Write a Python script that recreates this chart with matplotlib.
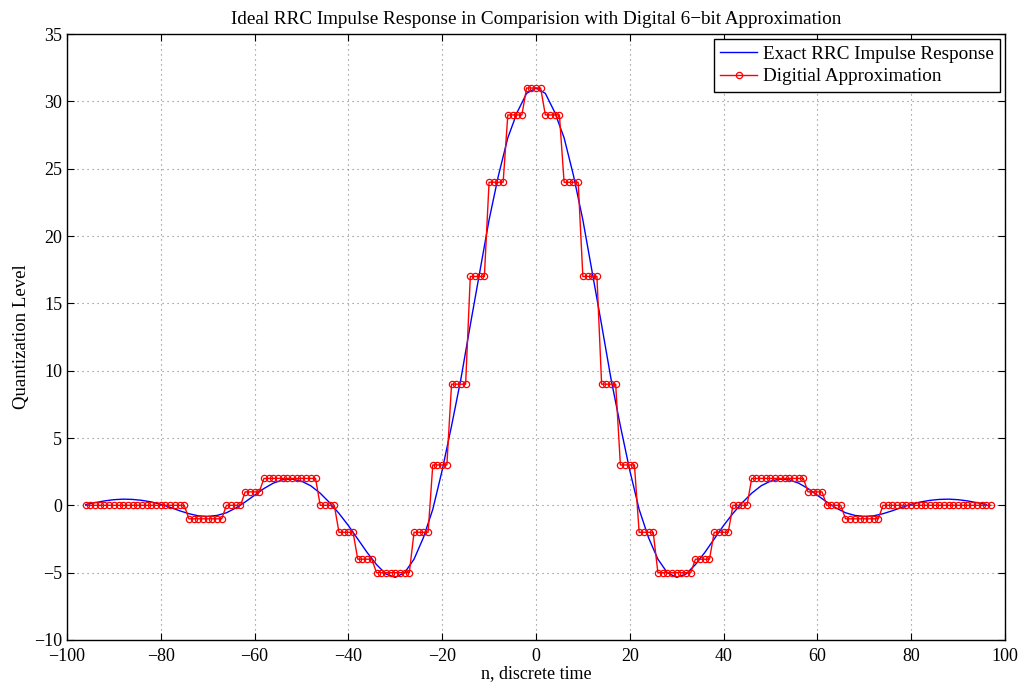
import numpy as np
import matplotlib
matplotlib.use('Agg')
import matplotlib.pyplot as plt

plt.rcParams['font.family'] = ['Liberation Serif', 'DejaVu Serif']

# Exact RRC curve, read every 2 samples from n = -96 to 96
n_exact = np.arange(-96, 97, 2)
half_exact = [31.0, 30.6, 29.2, 27.3, 24.5, 21.2, 17.3, 13.4, 9.4, 5.9, 2.6, -0.3,
              -2.4, -4.0, -5.0, -5.35, -5.1, -4.4, -3.5, -2.5, -1.5, -0.6, 0.2,
              0.9, 1.45, 1.8, 1.95, 1.9, 1.65, 1.25, 0.75, 0.25, -0.2, -0.55,
              -0.75, -0.82, -0.78, -0.62, -0.4, -0.15, 0.08, 0.25, 0.37, 0.44,
              0.46, 0.42, 0.33, 0.2, 0.06]
h_exact = half_exact[:0:-1] + half_exact

# Digital approximation: quantisation levels and how many samples each is held
red_levels = [0, -1, 0, 1, 2, 0, -2, -4, -5, -2, 3, 9, 17, 24, 29, 31,
              29, 24, 17, 9, 3, -2, -5, -4, -2, 0, 2, 1, 0, -1, 0]
red_counts = [22, 8, 4, 4, 12, 4, 4, 4, 8, 4, 4, 4, 4, 4, 4, 4,
              4, 4, 4, 4, 4, 4, 8, 4, 4, 4, 12, 4, 4, 8, 24]
n_red = np.arange(-96, 98)
h_red = np.repeat(red_levels, red_counts)

fig = plt.figure(figsize=(10.24, 6.83), dpi=100)
ax = fig.add_axes([0.0654, 0.063, 0.9160, 0.887])

ax.plot(n_exact, h_exact, color='blue', lw=1.0, label='Exact RRC Impulse Response')
ax.plot(n_red, h_red, color='red', lw=1.0, marker='o', ms=4.5, mfc='none',
        mec='red', mew=0.9, label='Digitial Approximation')

ax.set_xlim(-100, 100)
ax.set_ylim(-10, 35)
ax.set_xticks(np.arange(-100, 101, 20))
ax.set_yticks(np.arange(-10, 36, 5))
ax.grid(True, color='0.5', linestyle=(0, (1, 3.5)), lw=0.8)
ax.tick_params(direction='in', top=True, right=True, length=5, width=0.8,
               labelsize=13)
ax.tick_params(axis='x', pad=6)
for s in ax.spines.values():
    s.set_linewidth(1.0)

ax.set_title('Ideal RRC Impulse Response in Comparision with Digital 6\u2212bit Approximation',
             fontsize=13.8, pad=7)
ax.set_xlabel('n, discrete time', fontsize=13, labelpad=0)
ax.set_ylabel('Quantization Level', fontsize=13.5, labelpad=3)

leg = ax.legend(loc='upper right', fontsize=13.8, fancybox=False, framealpha=1,
                edgecolor='black', borderaxespad=0.25, handlelength=1.9,
                handletextpad=0.3, borderpad=0.35, labelspacing=0.25)
leg.get_frame().set_linewidth(1.0)

plt.savefig('out.png', dpi=100)
